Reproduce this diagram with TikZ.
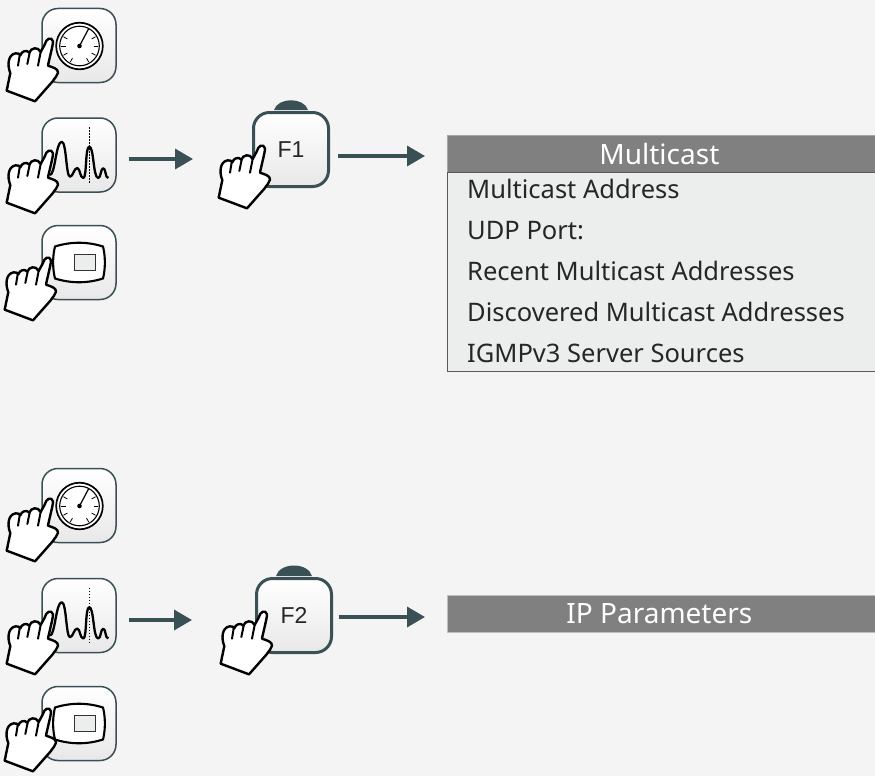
\documentclass[tikz,border=0pt]{standalone}
\usepackage{fontspec}
\setmainfont{Noto Sans}
\newfontfamily\keyfont{Liberation Sans}
\usetikzlibrary{arrows.meta}
\definecolor{pagegray}{HTML}{F4F4F4}
\definecolor{slate}{HTML}{395054}
\definecolor{headgray}{HTML}{808080}
\definecolor{bodygray}{HTML}{ECEEEE}
\tikzstyle{softkey} = [rectangle, rounded corners=16pt, minimum width=74pt, minimum height=74pt, draw=slate, line width=1.5pt, top color=white, bottom color=black!9]
\tikzstyle{fkey} = [rectangle, rounded corners=16pt, minimum width=75pt, minimum height=74pt, draw=slate, line width=3pt, top color=white, bottom color=black!9, font=\keyfont\fontsize{23}{23}\selectfont, text=black!85]
\tikzstyle{menuhead} = [rectangle, anchor=north west, minimum width=432pt, minimum height=37pt, inner sep=0pt, draw=black!35, line width=.8pt, fill=headgray, text=white, font=\fontsize{28}{30}\selectfont]
\tikzstyle{menubody} = [rectangle, anchor=north west, minimum width=432pt, minimum height=199pt, inner sep=0pt, draw=black!65, line width=1pt, fill=bodygray]
\tikzstyle{menuitem} = [anchor=west, inner sep=0pt, text height=19pt, text depth=6pt, text=black!85, font=\fontsize{25.5}{30}\selectfont]
\tikzstyle{arrow} = [-{Triangle[length=18pt,width=20pt]}, draw=slate, fill=slate, line width=3.5pt]
\tikzset{
	pics/gaugepic/.style={code={
		\draw [fill=white,line width=1.7pt] (0.5,0.5) circle (23.3pt);
		\draw [line width=1.1pt] (0.5,0.5) circle (19.8pt);
		\foreach \a in {-30,0,30,60,120,150,180,210}
			\draw [line width=.8pt] (0.5,0.5) ++(\a:-14pt) -- ++(\a:-4.5pt);
		\draw [line width=1.2pt] (0.5,0.5) -- (9.5,-16.5);
		\fill (0.5,0.5) circle (2.3pt);
	}},
	pics/wavepic/.style={code={
		\draw [line width=2.3pt,line join=round] (-29,20) .. controls (-24,20) and (-23,-13.3) .. (-17.3,-13.3) .. controls (-12.5,-13.3) and (-13,21.7) .. (-9,21.7) .. controls (-6,21.7) and (-5,13) .. (-1.7,13) .. controls (1,13) and (1,23) .. (4.3,23) .. controls (8,23) and (6,-8.3) .. (10.3,-8.3) .. controls (15,-8.3) and (14,23) .. (19.3,23) .. controls (22,23) and (21.5,13.3) .. (24.3,13.3) .. controls (27,13.3) and (26,23) .. (29.3,23);
		\draw [line width=1.5pt,dash pattern=on 1.5pt off 1.5pt] (10.3,-28) -- (10.3,28);
	}},
	pics/screenpic/.style={code={
		\draw [fill=white,line width=2.1pt,line join=round] (-24,-16) .. controls (-8,-21) and (8,-21) .. (24,-16) .. controls (26.5,-6) and (26.5,6) .. (24,16) .. controls (8,21) and (-8,21) .. (-24,16) .. controls (-26.5,6) and (-26.5,-6) .. cycle;
		\draw [fill=bodygray,draw=black!80,line width=1pt] (-4.3,-8.3) rectangle (16.7,8);
	}},
	pics/handpic/.style={code={
		\begin{scope}[x=.3333pt,y=-.3333pt]
		\draw [fill=white,line width=2.4pt,line join=round] (-130,158) -- (-119,105) .. controls (-128,85) and (-128,50) .. (-103,46) .. controls (-96,45) and (-91,48) .. (-89,52) .. controls (-86,40) and (-70,34) .. (-62,44) .. controls (-58,30) and (-36,24) .. (-28,42) -- (-16,20) .. controls (-12,2) and (4,-6) .. (9,10) .. controls (10,18) and (-4,70) .. (-6,83) .. controls (8,88) and (25,92) .. (24,104) .. controls (22,115) and (15,118) .. (8,130) -- (-45,190) -- cycle;
		\draw [line width=2pt,line cap=round] (-91,52) -- (-96,83);
		\draw [line width=2pt,line cap=round] (-61,44) -- (-68,78);
		\draw [line width=2pt,line cap=round] (-28,42) -- (-36,83);
		\end{scope}
	}}
}
\begin{document}
\begin{tikzpicture}[x=1pt,y=-1pt,node distance=110pt]
	\fill [pagegray] (0,0) rectangle (875,776);
	\useasboundingbox (0,0) rectangle (875,776);
	% upper group
	\node (PKa2) [softkey] at (79,155) {};
	\node (PKa1) [softkey, above of=PKa2, yshift=-.5pt] {};
	\node (PKa3) [softkey, below of=PKa2, yshift=2.5pt] {};
	\pic at (PKa1.center) {gaugepic};
	\pic at (PKa2.center) {wavepic};
	\pic at (PKa3.center) {screenpic};
	\pic at (50,38) {handpic};
	\pic at (50,150) {handpic};
	\pic at (48,257) {handpic};
	\node (FKa) [fkey] at (291,149.5) {F1};
	\fill [slate] ([xshift=-17pt,yshift=1pt]FKa.north) .. controls +(4,-13) and +(-4,-13) .. ([xshift=17pt,yshift=1pt]FKa.north);
	\pic at (262,145) {handpic};
	\node (HeadA) [menuhead] at (447,135) {\hspace*{-8pt}Multicast};
	\node (BodyA) [menubody] at (447,172) {};
	\node (ItemA1) [menuitem] at ([xshift=20pt,yshift=-20pt]BodyA.north west) {Multicast Address};
	\node (ItemA2) [menuitem] at ([yshift=-41pt]ItemA1.west) {UDP Port:};
	\node (ItemA3) [menuitem] at ([yshift=-41pt]ItemA2.west) {Recent Multicast Addresses};
	\node (ItemA4) [menuitem] at ([yshift=-41pt]ItemA3.west) {Discovered Multicast Addresses};
	\node (ItemA5) [menuitem] at ([yshift=-41pt]ItemA4.west) {IGMPv3 Server Sources};
	\draw [arrow] ([xshift=12pt,yshift=-4pt]PKa2.east) -- ([xshift=-59pt,yshift=-9.5pt]FKa.west);
	\draw [arrow] ([xshift=8pt,yshift=-6.5pt]FKa.east) -- ([xshift=-22pt,yshift=-2.1pt]HeadA.west);
	% lower group
	\node (PKb2) [softkey] at (79,615.5) {};
	\node (PKb1) [softkey, above of=PKb2] {};
	\node (PKb3) [softkey, below of=PKb2, yshift=2pt] {};
	\pic at (PKb1.center) {gaugepic};
	\pic at (PKb2.center) {wavepic};
	\pic at (PKb3.center) {screenpic};
	\pic at (50,498) {handpic};
	\pic at (50,611) {handpic};
	\pic at (48,708) {handpic};
	\node (FKb) [fkey] at (294,615.5) {F2};
	\fill [slate] ([xshift=-18pt,yshift=1pt]FKb.north) .. controls +(4,-14) and +(-4,-14) .. ([xshift=18pt,yshift=1pt]FKb.north);
	\pic at (264,611) {handpic};
	\node (HeadB) [menuhead, draw=black!25] at (447,595) {\hspace*{-8pt}IP Parameters};
	\draw [arrow] ([xshift=12pt,yshift=-4.5pt]PKb2.east) -- ([xshift=-63pt,yshift=-4.5pt]FKb.west);
	\draw [arrow] ([xshift=6pt,yshift=-1.5pt]FKb.east) -- ([xshift=-22pt,yshift=-3.1pt]HeadB.west);
\end{tikzpicture}
\end{document}
